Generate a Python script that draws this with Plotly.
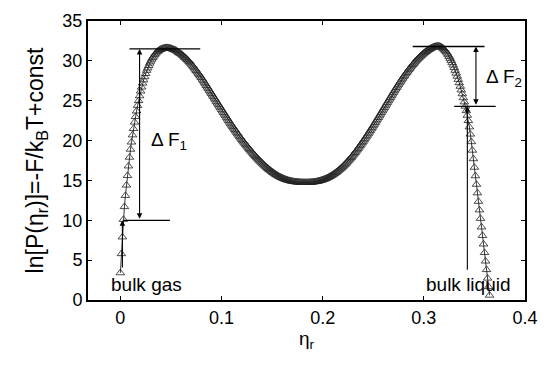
import plotly.graph_objects as go

# sampling grid of eta_r (step 0.001 from 0 to 0.365)
eta_step = 0.001
ln_p = [
    3.4, 5.8, 7.9, 10.1, 11.7, 13.1, 14.4, 15.6, 16.8, 17.9,
    18.9, 19.8, 20.7, 21.5, 22.3, 23.0, 23.7, 24.4, 25.0, 25.6,
    26.2, 26.7, 27.2, 27.6, 28.0, 28.4, 28.8, 29.1, 29.4, 29.7,
    29.95, 30.2, 30.4, 30.6, 30.8, 30.95, 31.1, 31.2, 31.3, 31.4,
    31.45, 31.5, 31.55, 31.6, 31.6, 31.65, 31.65, 31.65, 31.6, 31.6,
    31.55, 31.5, 31.45, 31.4, 31.35, 31.3, 31.2, 31.1, 31.0, 30.95,
    30.85, 30.75, 30.65, 30.5, 30.4, 30.3, 30.15, 30.05, 29.9, 29.75,
    29.6, 29.45, 29.3, 29.12, 28.95, 28.78, 28.6, 28.43, 28.25, 28.08,
    27.9, 27.7, 27.5, 27.3, 27.1, 26.9, 26.7, 26.5, 26.3, 26.1,
    25.9, 25.7, 25.5, 25.3, 25.1, 24.9, 24.7, 24.5, 24.3, 24.1,
    23.9, 23.7, 23.5, 23.3, 23.1, 22.9, 22.7, 22.5, 22.3, 22.1,
    21.92, 21.74, 21.56, 21.38, 21.2, 21.02, 20.84, 20.66, 20.48, 20.3,
    20.13, 19.96, 19.8, 19.64, 19.48, 19.32, 19.16, 19.0, 18.85, 18.7,
    18.55, 18.4, 18.26, 18.12, 17.98, 17.84, 17.7, 17.57, 17.44, 17.31,
    17.18, 17.06, 16.94, 16.82, 16.7, 16.59, 16.48, 16.37, 16.27, 16.17,
    16.07, 15.98, 15.89, 15.8, 15.72, 15.64, 15.56, 15.49, 15.42, 15.36,
    15.3, 15.24, 15.19, 15.14, 15.09, 15.05, 15.01, 14.97, 14.94, 14.91,
    14.88, 14.86, 14.84, 14.82, 14.8, 14.79, 14.78, 14.77, 14.76, 14.75,
    14.75, 14.74, 14.74, 14.74, 14.74, 14.74, 14.75, 14.75, 14.76, 14.77,
    14.78, 14.8, 14.82, 14.84, 14.86, 14.89, 14.92, 14.95, 14.99, 15.03,
    15.07, 15.12, 15.17, 15.22, 15.28, 15.34, 15.41, 15.48, 15.55, 15.63,
    15.71, 15.8, 15.89, 15.98, 16.08, 16.18, 16.29, 16.4, 16.51, 16.63,
    16.75, 16.88, 17.01, 17.14, 17.28, 17.42, 17.56, 17.71, 17.86, 18.01,
    18.17, 18.33, 18.49, 18.66, 18.83, 19.0, 19.17, 19.35, 19.53, 19.71,
    19.89, 20.08, 20.27, 20.46, 20.65, 20.84, 21.04, 21.24, 21.44, 21.64,
    21.84, 22.04, 22.25, 22.46, 22.67, 22.88, 23.09, 23.3, 23.51, 23.72,
    23.93, 24.14, 24.35, 24.56, 24.77, 24.98, 25.19, 25.4, 25.61, 25.82,
    26.03, 26.24, 26.44, 26.64, 26.84, 27.04, 27.24, 27.43, 27.62, 27.81,
    28.0, 28.18, 28.36, 28.54, 28.71, 28.88, 29.05, 29.21, 29.37, 29.53,
    29.68, 29.83, 29.97, 30.11, 30.24, 30.37, 30.5, 30.62, 30.74, 30.85,
    30.96, 31.06, 31.16, 31.25, 31.34, 31.42, 31.5, 31.57, 31.64, 31.7,
    31.75, 31.79, 31.83, 31.85, 31.86, 31.84, 31.8, 31.74, 31.66, 31.56,
    31.44, 31.3, 31.14, 30.96, 30.76, 30.54, 30.3, 30.04, 29.76, 29.46,
    29.14, 28.8, 28.44, 28.06, 27.66, 27.24, 26.8, 26.34, 25.86, 25.36,
    24.84, 24.3, 23.74, 23.16, 22.5, 21.7, 20.8, 19.85, 18.78, 17.71,
    16.64, 15.57, 14.5, 13.43, 12.36, 11.29, 10.22, 9.15, 8.08, 7.01,
    5.94, 4.87, 3.8, 2.73, 1.66, 0.59,
]
eta = [round(i * eta_step, 3) for i in range(len(ln_p))]

# annotation geometry (data units)
f1_top, f1_bot, f1_x = 31.5, 10.0, 0.019
f2_top, f2_bot, f2_x = 31.8, 24.3, 0.3515
hlines = [  # (x0, x1, y)
    (0.009, 0.079, f1_top),
    (0.003, 0.049, f1_bot),
    (0.289, 0.360, f2_top),
    (0.330, 0.371, f2_bot),
]
gas_x, liq_x = 0.002, 0.343

FONT = "Liberation Sans"
fig = go.Figure()
fig.add_trace(go.Scatter(
    x=eta, y=ln_p, mode="lines+markers",
    line=dict(color="black", width=0.8),
    marker=dict(symbol="triangle-up-open", size=7.5, color="#222",
                line=dict(width=0.8, color="#222")),
    showlegend=False, hoverinfo="skip",
))

shapes = []
for x0, x1, y in hlines:
    shapes.append(dict(type="line", xref="x", yref="y", x0=x0, x1=x1, y0=y, y1=y,
                       line=dict(color="black", width=1.3)))
fig.update_layout(shapes=shapes)

def arrow(x, y0, y1, both=True):
    fig.add_annotation(x=x, y=y1, ax=x, ay=y0, xref="x", yref="y", axref="x", ayref="y",
                       text="", showarrow=True, arrowhead=2, arrowsize=1, arrowwidth=1.1,
                       arrowside="end+start" if both else "end", arrowcolor="black",
                       standoff=0, startstandoff=0)

arrow(f1_x, f1_bot, f1_top)
arrow(f2_x, f2_bot, f2_top)
arrow(gas_x, 3.9, f1_bot, both=False)
arrow(liq_x, 3.6, f2_bot, both=False)

txt = dict(family=FONT, size=19, color="black")
fig.add_annotation(x=0.028, y=20.0, text="Δ F<sub>1</sub>", showarrow=False,
                   xanchor="left", yanchor="middle", font=txt)
fig.add_annotation(x=0.359, y=27.8, text="Δ F<sub>2</sub>", showarrow=False,
                   xanchor="left", yanchor="middle", font=txt)
fig.add_annotation(x=-0.011, y=1.9, text="bulk gas", showarrow=False,
                   xanchor="left", yanchor="middle", font=txt)
fig.add_annotation(x=0.300, y=1.9, text="bulk liquid", showarrow=False,
                   xanchor="left", yanchor="middle", font=txt)

axis_common = dict(showgrid=False, zeroline=False, showline=True, linecolor="black",
                   linewidth=2, mirror="ticks", ticks="inside", ticklen=4,
                   tickcolor="black", tickfont=dict(family=FONT, size=18, color="black"))
fig.update_xaxes(range=[-0.032, 0.4], tickvals=[0, 0.1, 0.2, 0.3, 0.4],
                 ticktext=["0", "0.1", "0.2", "0.3", "0.4"],
                 title=dict(text="η<sub>r</sub>", font=dict(family=FONT, size=19, color="black"),
                            standoff=2),
                 **axis_common)
fig.update_yaxes(range=[0, 35], tickvals=[0, 5, 10, 15, 20, 25, 30, 35],
                 title=dict(text="ln[P(η<sub>r</sub>)]=-F/k<sub>B</sub>T+const",
                            font=dict(family=FONT, size=23, color="black"), standoff=12),
                 **axis_common)
fig.update_layout(width=549, height=368, margin=dict(l=88, r=24, t=11, b=68),
                  plot_bgcolor="white", paper_bgcolor="white")
fig.write_html("out.html")
